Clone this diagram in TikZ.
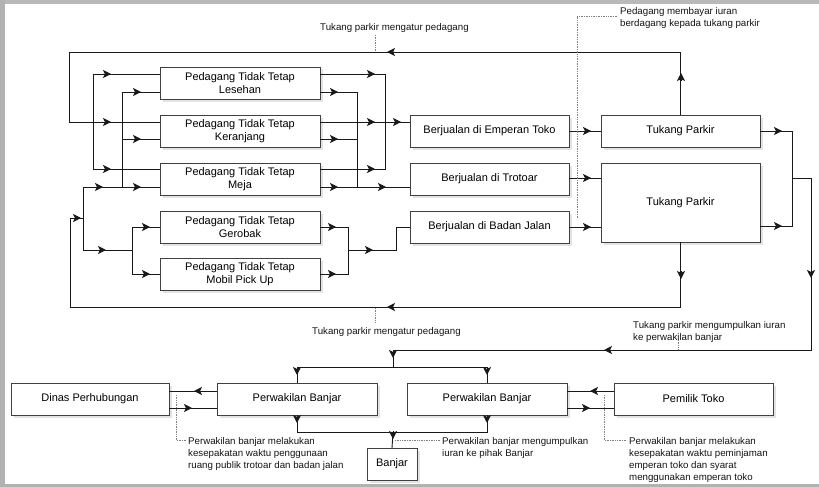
\documentclass[tikz,border=0pt]{standalone}
\usepackage{fontspec}
\setmainfont{Liberation Sans}
\usetikzlibrary{arrows.meta,shadows}
\newcommand{\tipR}[1]{\draw[tipst] (#1) ++(-8,0) -- (#1);}
\newcommand{\tipL}[1]{\draw[tipst] (#1) ++(8,0) -- (#1);}
\newcommand{\tipU}[1]{\draw[tipst] (#1) ++(0,8) -- (#1);}
\newcommand{\tipD}[1]{\draw[tipst] (#1) ++(0,-8) -- (#1);}
\begin{document}
\begin{tikzpicture}[x=1pt,y=-1pt,
  box/.style={draw=black!75, line width=0.9pt, fill=white, minimum height=32pt,
    inner sep=0pt, outer sep=0pt, align=center,
    font=\fontsize{11}{13.5}\selectfont, text=black,
    drop shadow={opacity=0.22, shadow xshift=2.5pt, shadow yshift=-2.5pt}},
  conn/.style={line width=0.9pt, draw=black!90},
  tipst/.style={conn, fill=black, -{Stealth[length=8pt,width=8pt,inset=2pt]}},
  note/.style={font=\fontsize{9.7}{12}\selectfont, inner sep=0pt, align=left, text=black!92},
  dots/.style={densely dotted, draw=gray, line width=0.7pt}]
\useasboundingbox (0,0) rectangle (819,487);
\fill[white] (0,0) rectangle (819,487);
% window frame
\fill[gray!55] (0,0) rectangle (819,4);
\fill[gray!60] (0,0) rectangle (5,487);
\fill[gray!60] (0,484) rectangle (819,487);

% ---------- nodes ----------
\node[box, minimum width=160pt] (les) at (240,83) {Pedagang Tidak Tetap\\Lesehan};
\node[box, minimum width=160pt] (ker) at (240,131) {Pedagang Tidak Tetap\\Keranjang};
\node[box, minimum width=160pt] (mej) at (240,179) {Pedagang Tidak Tetap\\Meja};
\node[box, minimum width=160pt] (ger) at (240,227) {Pedagang Tidak Tetap\\Gerobak};
\node[box, minimum width=160pt] (mob) at (240,274) {Pedagang Tidak Tetap\\Mobil Pick Up};
\node[box, minimum width=159pt] (emp) at (489.5,131) {Berjualan di Emperan Toko};
\node[box, minimum width=159pt] (tro) at (489.5,179) {Berjualan di Trotoar};
\node[box, minimum width=159pt] (bad) at (489.5,227) {Berjualan di Badan Jalan};
\node[box, minimum width=159pt] (tp1) at (680.5,131) {Tukang Parkir};
\node[box, minimum width=159pt, minimum height=79pt] (tp2) at (680.5,202.5) {Tukang Parkir};
\node[box, minimum width=158pt] (dis) at (90,399) {Dinas Perhubungan};
\node[box, minimum width=160pt] (pb1) at (297,399) {Perwakilan Banjar};
\node[box, minimum width=160pt] (pb2) at (487,399) {Perwakilan Banjar};
\node[box, minimum width=159pt] (pem) at (693.5,399) {Pemilik Toko};
\node[box, minimum width=50pt] (ban) at (392,464) {Banjar};

% ---------- junction coordinates ----------
\coordinate (jA) at (93,122);
\coordinate (jB) at (122,187);
\coordinate (jC) at (83,218);
\coordinate (jD) at (385,122);
\coordinate (jE) at (357,187);
\coordinate (jF) at (348,250);
\coordinate (jG) at (792,178);
\coordinate (jH) at (393,367);
\coordinate (jI) at (393,432);

% ---------- feedback loops ----------
\draw[conn] (tp1.north) -- (tp1.north |- 0,52) -| (69,122) -- (ker.west |- 0,122);
\tipU{681,73} \tipL{387,52} \tipR{111,122}
\draw[conn] (tp2.south) -- (tp2.south |- 0,307) -| (70,218) -- (jC);
\tipD{681,279} \tipL{387,307} \tipR{81,218}

% ---------- left side of trader boxes ----------
\draw[conn] (jA) |- (les.west |- 0,74);
\draw[conn] (jA) |- (mej.west |- 0,169);
\tipR{111,74} \tipR{111,169}
\draw[conn] (jB) |- (les.west |- 0,92);
\draw[conn] (122,139) -- (ker.west |- 0,139);
\tipR{141,92} \tipR{141,139} \tipR{141,187}
\draw[conn] (jC) -- (83,187) -- (mej.west |- 0,187);
\tipR{103,187}
\draw[conn] (jC) |- (132,250);
\tipR{106,250}
\draw[conn] (132,250) |- (ger.west);
\draw[conn] (132,250) |- (mob.west);
\tipR{150,227} \tipR{150,274}

% ---------- right side of trader boxes ----------
\draw[conn] (les.east |- 0,74) -| (jD);
\draw[conn] (mej.east |- 0,169) -| (jD);
\draw[conn] (ker.east |- 0,122) -- (emp.west |- 0,122);
\tipR{375,74} \tipR{375,122} \tipR{375,169} \tipR{401,122}
\draw[conn] (les.east |- 0,92) -| (jE);
\draw[conn] (ker.east |- 0,139) -- (357,139);
\draw[conn] (mej.east |- 0,187) -- (tro.west |- 0,187);
\tipR{338,92} \tipR{338,139} \tipR{338,187} \tipR{386,187}
\draw[conn] (ger.east) -| (jF);
\draw[conn] (mob.east) -| (jF);
\draw[conn] (jF) -- (396,250) |- (bad.west);
\tipR{336,227} \tipR{336,274} \tipR{373,250}

% ---------- to tukang parkir ----------
\draw[conn] (emp.east) -- (tp1.west);
\draw[conn] (tro.east |- 0,178) -- (tp2.west |- 0,178);
\draw[conn] (bad.east) -- (tp2.west |- 0,227);
\tipR{591,131} \tipR{591,178} \tipR{591,227}

% ---------- tukang parkir to perwakilan banjar ----------
\draw[conn] (tp1.east) -| (jG);
\draw[conn] (tp2.east |- 0,226) -| (jG);
\tipR{782,131} \tipR{782,226}
\draw[conn] (jG) -- (811,178) |- (393,350) -- (jH);
\tipD{811,278} \tipL{604,350} \tipD{393,358}
\draw[conn] (jH) -| (pb1.north);
\draw[conn] (jH) -| (pb2.north);
\tipD{297,375} \tipD{487,375}

% ---------- to banjar ----------
\draw[conn] (pb1.south) |- (jI);
\draw[conn] (pb2.south) |- (jI);
\draw[conn] (jI) -- (ban.north);
\tipD{297,423} \tipD{487,423} \tipD{393,439}

% ---------- dinas / pemilik ----------
\draw[conn] (pb1.west |- 0,391) -- (dis.east |- 0,391);
\draw[conn] (dis.east |- 0,408) -- (pb1.west |- 0,408);
\tipL{194,391} \tipR{192,408}
\draw[conn] (pem.west |- 0,391) -- (pb2.east |- 0,391);
\draw[conn] (pb2.east |- 0,408) -- (pem.west |- 0,408);
\tipL{590,391} \tipR{590,408}

% ---------- annotations ----------
\node[note, anchor=west] (n1) at (320,28) {Tukang parkir mengatur pedagang};
\draw[dots] (375,35) -- (375,51);
\node[note, anchor=north west] (n2) at (620,7.5) {Pedagang membayar iuran\\berdagang kepada tukang parkir};
\draw[dots] (617,16) -- (577,16) -- (577,218);
\node[note, anchor=west] (n3) at (312,332) {Tukang parkir mengatur pedagang};
\draw[dots] (375,308) -- (375,323);
\node[note, anchor=north west] (n4) at (633,321.5) {Tukang parkir mengumpulkan iuran\\ke perwakilan banjar};
\draw[dots] (678,340) -- (678,349);
\node[note, anchor=north west] (n5) at (188,437.5) {Perwakilan banjar melakukan\\kesepakatan waktu penggunaan\\ruang publik trotoar dan badan jalan};
\draw[dots] (176,395) -- (176,440) -- (186,440);
\node[note, anchor=north west] (n6) at (442,437.5) {Perwakilan banjar mengumpulkan\\iuran ke pihak Banjar};
\draw[dots] (395,440) -- (440,440);
\node[note, anchor=north west] (n7) at (629,437.5) {Perwakilan banjar melakukan\\kesepakatan waktu peminjaman\\emperan toko dan syarat\\menggunakan emperan toko};
\draw[dots] (604,395) -- (604,440) -- (627,440);
\end{tikzpicture}
\end{document}
